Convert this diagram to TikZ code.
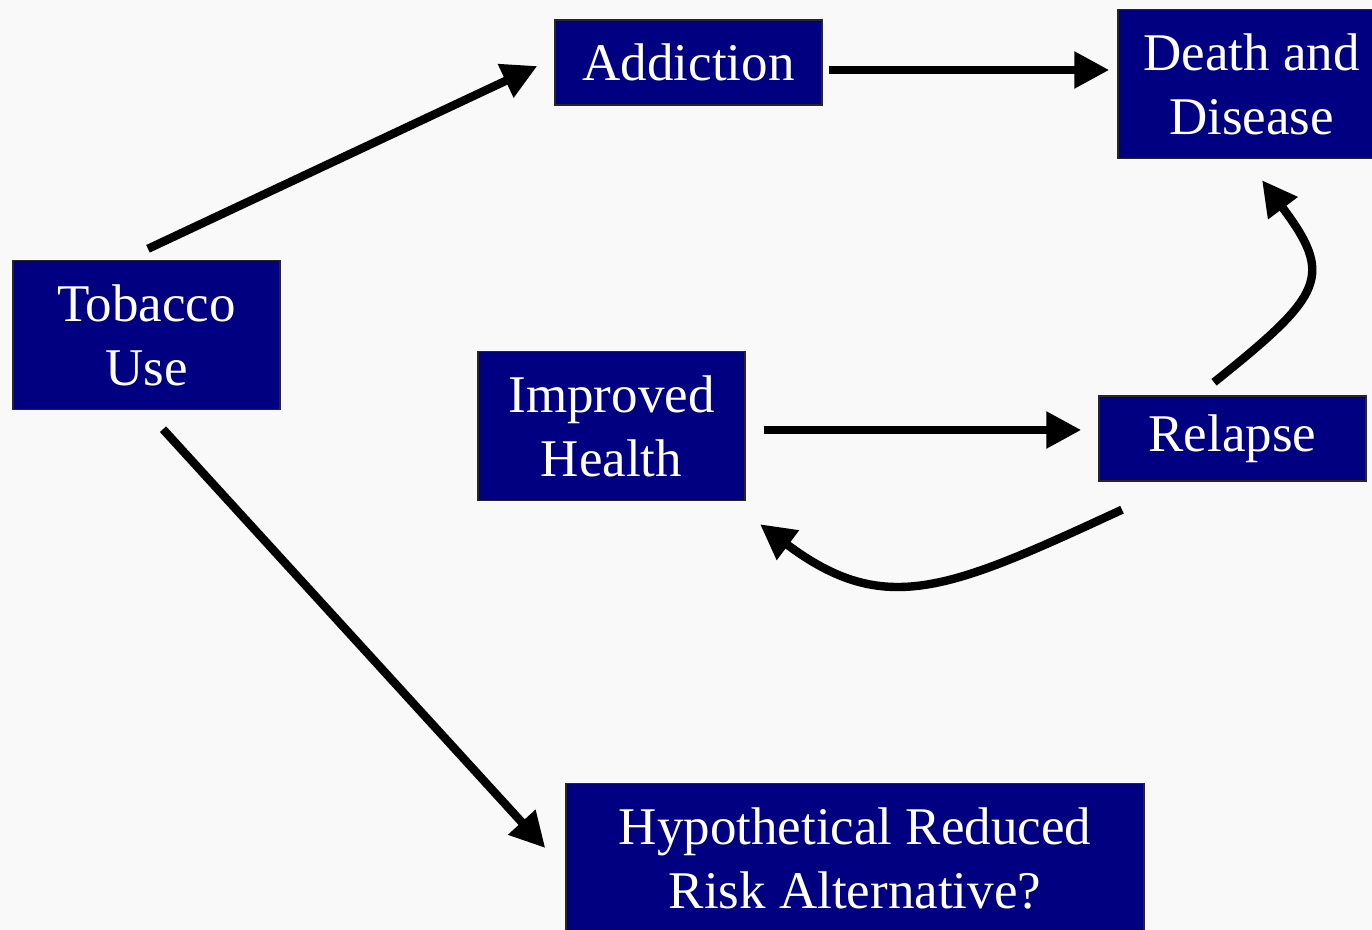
\documentclass[tikz,border=0pt]{standalone}
\usepackage{fontspec}
\setmainfont{Liberation Serif}
\usepackage{tikz}
\usetikzlibrary{arrows.meta,positioning,calc}
\definecolor{navybox}{RGB}{0,0,128}
\definecolor{bgpaper}{RGB}{249,249,249}

\begin{document}
\begin{tikzpicture}[x=0.5pt, y=-0.5pt,
    box/.style={draw=black!85, line width=0.7pt, fill=navybox, text=white,
        inner sep=0pt, align=center, minimum width=133.5pt,
        font=\fontsize{26.5}{32}\selectfont},
    tall/.style={box, minimum height=74.5pt},
    flat/.style={box, minimum height=42.5pt},
    flow/.style={line width=4.2pt, -{Triangle[length=17.5pt,width=17.5pt]}}]
    % 画布
    \useasboundingbox (0,0) rectangle (1372,930);
    \clip (0,0) rectangle (1372,930);
    \fill[bgpaper] (0,0) rectangle (1372,930);

    % 方框
    \node[tall] (tobacco) at (146.5,335) {Tobacco\\Use};
    \node[flat] (addiction) at (688.5,62.5) {Addiction};
    \node[tall] (death) at (1251.5,84) {Death and\\Disease};
    \node[tall] (improved) at (611.5,426) {Improved\\Health};
    \node[flat] (relapse) at (1232.5,438.5) {Relapse};
    \node[tall, minimum width=289pt] (hypo) at (855,858) {Hypothetical Reduced\\Risk Alternative?};

    % 直箭头
    \draw[flow] ($(tobacco.north)+(1.5,-11)$) -- ($(addiction.west)+(-17,3.5)$);
    \draw[flow] ($(addiction.east)+(6,7.5)$) -- ($(death.west)+(-8,-14)$);
    \draw[flow] ($(improved.east)+(18,4)$) -- ($(relapse.west)+(-17,-8.5)$);
    \draw[flow] ($(tobacco.south)+(16.5,19)$) -- ($(hypo.west)+(-20,-10)$);

    % 弯箭头
    \draw[flow] ($(relapse.north)+(-18.5,-13)$)
        .. controls +(110,-88) and +(72,96) .. ($(death.south)+(10.5,21)$);
    \draw[flow] ($(relapse.south)+(-110.5,28)$)
        .. controls +(-173,80) and +(125,94) .. ($(improved.south)+(148.5,23)$);
\end{tikzpicture}
\end{document}
